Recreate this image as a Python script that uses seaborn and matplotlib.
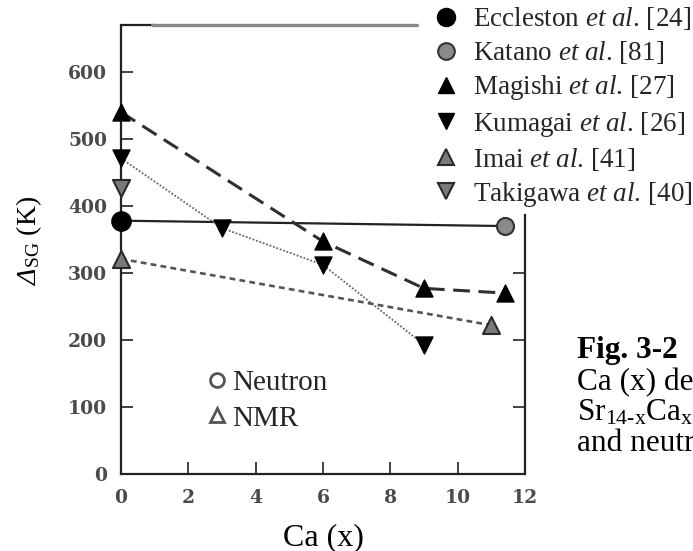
import matplotlib
matplotlib.use("Agg")
import matplotlib.pyplot as plt
from matplotlib.lines import Line2D
import seaborn as sns

# ---- data ----
eccleston_x = [0.0]
eccleston_y = [378]
katano_x = [11.4]
katano_y = [370]
magishi_x = [0.0, 6.0, 9.0, 11.4]
magishi_y = [540, 347, 277, 270]
kumagai_x = [0.0, 3.0, 6.0, 9.0]
kumagai_y = [471, 367, 312, 193]
imai_x = [0.0, 11.0]
imai_y = [321, 222]
takigawa_x = [0.0]
takigawa_y = [427]

legend_labels = [
    "Eccleston $\\mathit{et\\ al}$. [24]",
    "Katano $\\mathit{et\\ al}$. [81]",
    "Magishi $\\mathit{et\\ al}$. [27]",
    "Kumagai $\\mathit{et\\ al}$. [26]",
    "Imai $\\mathit{et\\ al}$. [41]",
    "Takigawa $\\mathit{et\\ al}$. [40]",
]
method_labels = ["Neutron", "NMR"]
x_ticks = [0, 2, 4, 6, 8, 10, 12]
y_ticks = [0, 100, 200, 300, 400, 500, 600]
caption_lines = [
    "Ca (x) de",
    "Sr$_{\\mathrm{14\u2010x}}$Ca$_{\\mathrm{x}}$",
    "and neutr",
]

sns.set_style("ticks")
plt.rcParams["font.family"] = ["Liberation Serif", "DejaVu Serif"]
plt.rcParams["mathtext.fontset"] = "custom"
plt.rcParams["mathtext.rm"] = "Liberation Serif"
plt.rcParams["mathtext.it"] = "Liberation Serif:italic"
plt.rcParams["mathtext.sf"] = "Liberation Serif:italic"
plt.rcParams["mathtext.bf"] = "Liberation Serif:bold"

W, H = 693, 551
fig = plt.figure(figsize=(W / 100, H / 100), dpi=100)
ax = fig.add_axes([121 / W, (H - 474) / H, (525 - 121) / W, (474 - 25) / H])

# ---- lines ----
neutron_x = eccleston_x + katano_x
neutron_y = eccleston_y + katano_y
sns.lineplot(x=neutron_x, y=neutron_y, ax=ax, color="#222222", linewidth=1.6,
             sort=False, estimator=None, zorder=2)
sns.lineplot(x=magishi_x, y=magishi_y, ax=ax, color="#303030", linewidth=2.2,
             linestyle=(0, (5.5, 2.8)), sort=False, estimator=None, zorder=2)
sns.lineplot(x=kumagai_x, y=kumagai_y, ax=ax, color="#666666", linewidth=1.3,
             linestyle=(0, (1, 1)), sort=False, estimator=None, zorder=2)
sns.lineplot(x=imai_x, y=imai_y, ax=ax, color="#555555", linewidth=1.9,
             linestyle=(0, (2.2, 1.6)), sort=False, estimator=None, zorder=2)

# ---- markers ----
sns.scatterplot(x=eccleston_x, y=eccleston_y, ax=ax, marker="o", s=190,
                color="black", edgecolor="black", zorder=4, clip_on=False)
sns.scatterplot(x=katano_x, y=katano_y, ax=ax, marker="o", s=150,
                color="#8a8a8a", edgecolor="#333333", linewidth=1.5, zorder=4,
                clip_on=False)
sns.scatterplot(x=magishi_x, y=magishi_y, ax=ax, marker="^", s=150,
                color="black", edgecolor="black", zorder=4, clip_on=False)
sns.scatterplot(x=kumagai_x, y=kumagai_y, ax=ax, marker="v", s=150,
                color="black", edgecolor="black", zorder=4, clip_on=False)
sns.scatterplot(x=imai_x, y=imai_y, ax=ax, marker="^", s=150,
                color="#7a7a7a", edgecolor="#2a2a2a", linewidth=1.5, zorder=4,
                clip_on=False)
sns.scatterplot(x=takigawa_x, y=takigawa_y, ax=ax, marker="v", s=150,
                color="#7a7a7a", edgecolor="#2a2a2a", linewidth=1.5, zorder=4,
                clip_on=False)

# ---- axes styling ----
ax.set_xlim(0, 12)
ax.set_ylim(0, 670)
tick_font = dict(fontfamily="DejaVu Serif", fontweight="bold", fontsize=13.5,
                 color="#4a4a4a")
ax.set_xticks(x_ticks)
ax.set_yticks(y_ticks)
ax.set_xticklabels([str(t) for t in x_ticks], **tick_font)
ax.set_yticklabels([str(t) for t in y_ticks], **tick_font)
ax.tick_params(axis="both", direction="in", length=8.5, width=1.3, color="#333333")
ax.tick_params(axis="y", right=True, pad=10)
ax.tick_params(axis="x", pad=11)
right_spine_top = 387
for s in ["left", "bottom", "right"]:
    ax.spines[s].set_linewidth(1.6)
    ax.spines[s].set_color("#222222")
ax.spines["top"].set_visible(False)
ax.spines["right"].set_bounds(0, right_spine_top)
ax.set_facecolor("white")

ax.set_xlabel("Ca (x)", fontsize=23, color="black")
ax.xaxis.set_label_coords(0.5, -0.11)
ax.set_ylabel("$\\mathsf{\u0394}_{\\mathrm{SG}}$ (K)", fontsize=20, color="black")
ax.yaxis.set_label_coords(-0.19, 0.52)

# top border pieces (as in the scan)
fig.add_artist(Line2D([121 / W, 155 / W], [(H - 25) / H] * 2, color="#222222",
                      linewidth=1.6, transform=fig.transFigure))
fig.add_artist(Line2D([152 / W, 417 / W], [(H - 25) / H] * 2, color="#888888",
                      linewidth=2.4, transform=fig.transFigure))

# inner legend (Neutron / NMR)
inner_handles = [
    Line2D([], [], marker="o", linestyle="none", markersize=10,
           markerfacecolor="white", markeredgecolor="#555555", markeredgewidth=2),
    Line2D([], [], marker="^", linestyle="none", markersize=10,
           markerfacecolor="white", markeredgecolor="#555555", markeredgewidth=2),
]
ax.legend(inner_handles, method_labels, loc="upper left",
          bbox_to_anchor=(210 / W, (H - 370) / H), bbox_transform=fig.transFigure,
          frameon=False, fontsize=21, handlelength=0.5, handletextpad=0.25,
          labelspacing=0.3, borderpad=0, borderaxespad=0)

# outer legend
outer_handles = [
    Line2D([], [], marker="o", linestyle="none", markersize=13,
           markerfacecolor="black", markeredgecolor="black"),
    Line2D([], [], marker="o", linestyle="none", markersize=12,
           markerfacecolor="#8a8a8a", markeredgecolor="#333333", markeredgewidth=1.5),
    Line2D([], [], marker="^", linestyle="none", markersize=12,
           markerfacecolor="black", markeredgecolor="black"),
    Line2D([], [], marker="v", linestyle="none", markersize=12,
           markerfacecolor="black", markeredgecolor="black"),
    Line2D([], [], marker="^", linestyle="none", markersize=12,
           markerfacecolor="#7a7a7a", markeredgecolor="#2a2a2a", markeredgewidth=1.5),
    Line2D([], [], marker="v", linestyle="none", markersize=12,
           markerfacecolor="#7a7a7a", markeredgecolor="#2a2a2a", markeredgewidth=1.5),
]
leg = fig.legend(outer_handles, legend_labels, loc="upper left",
                 bbox_to_anchor=(427 / W, 1.0), bbox_transform=fig.transFigure,
                 frameon=False, fontsize=19.5, handlelength=1.0, handletextpad=0.5,
                 labelspacing=0.26, borderpad=0.2, borderaxespad=0)

# caption text on the right
fig.text(577 / W, (H - 358) / H, "Fig. 3-2", fontsize=22.5, fontweight="bold",
         color="black", va="baseline", ha="left")
for i, line in enumerate(caption_lines):
    fig.text(577 / W, (H - 390 - 30.5 * i) / H, line, fontsize=22.5,
             color="black", va="baseline", ha="left")

# hide right-side ticks above the (shortened) right spine
for tick in ax.yaxis.get_major_ticks():
    if tick.get_loc() > right_spine_top:
        tick.tick2line.set_visible(False)

fig.savefig("out.png", dpi=100, facecolor="white")
